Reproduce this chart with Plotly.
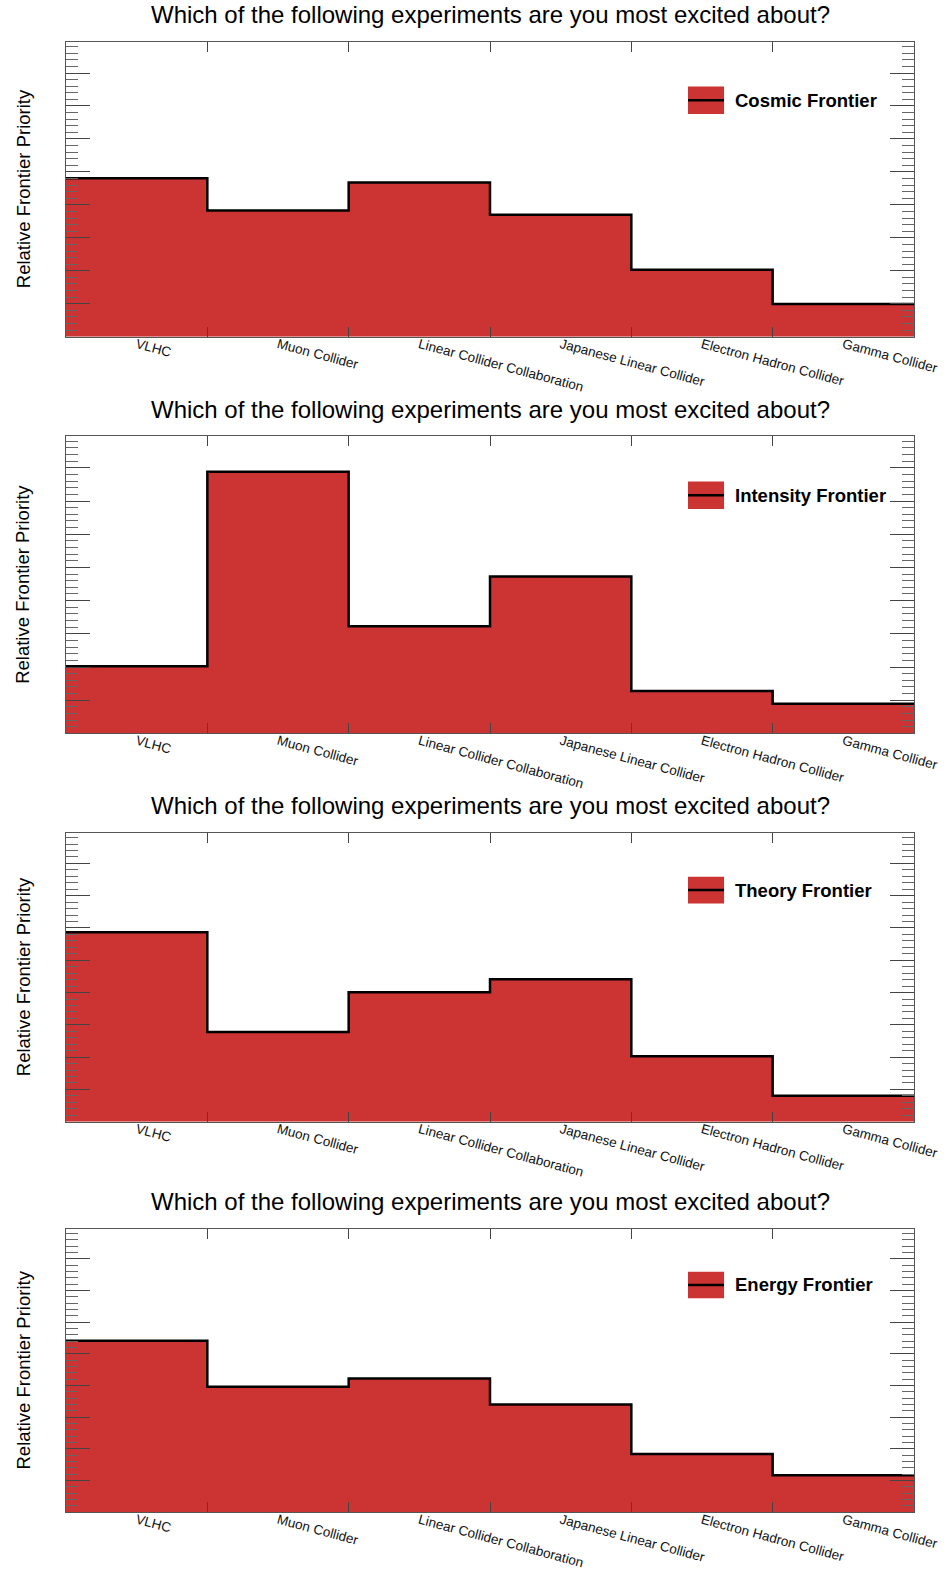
import numpy as np
import plotly.graph_objects as go

categories = ["VLHC", "Muon Collider", "Linear Collider Collaboration",
              "Japanese Linear Collider", "Electron Hadron Collider", "Gamma Collider"]
panel_names = ["Cosmic Frontier", "Intensity Frontier", "Theory Frontier", "Energy Frontier"]
cosmic = [4.81, 3.83, 4.68, 3.70, 2.03, 0.99]
intensity = [2.02, 7.88, 3.23, 4.73, 1.28, 0.89]
theory = [5.87, 2.78, 4.01, 4.41, 2.03, 0.80]
energy = [5.41, 3.96, 4.22, 3.40, 1.84, 1.17]
series = [cosmic, intensity, theory, energy]
title_text = "Which of the following experiments are you most excited about?"
ytitle_text = "Relative Frontier Priority"

W, H = 948, 1574
# panel pixel bounds (top, bottom)
panels_px = [(41.7, 336.7), (436.3, 733.4), (832.7, 1121.7), (1228.7, 1512.3)]
x_left, x_right = 66, 914
FONT = "Liberation Sans, Arial, Helvetica, sans-serif"
RED = "#cc3333"
AXC = "#555555"

fig = go.Figure()
edges = np.arange(len(categories) + 1)
centers = edges[:-1] + 0.5
layout = dict(width=W, height=H, margin=dict(l=0, r=0, t=0, b=0, autoexpand=False),
              paper_bgcolor="white", plot_bgcolor="white", showlegend=False)
shapes, annotations = [], []

for i, (vals, name) in enumerate(zip(series, panel_names)):
    k = "" if i == 0 else str(i + 1)
    top, bot = panels_px[i]
    ydom = [1 - bot / H, 1 - top / H]
    yv = list(vals) + [vals[-1]]
    fig.add_trace(go.Scatter(x=edges, y=yv, mode="lines", line=dict(shape="hv", color="black", width=2.5),
                             fill="tozeroy", fillcolor=RED, xaxis="x" + k, yaxis="y" + k, name=name,
                             hoverinfo="skip"))
    layout["xaxis" + k] = dict(domain=[x_left / W, x_right / W], range=[0, len(categories)], anchor="y" + k,
                               tickmode="array", tickvals=centers, ticktext=categories, tickangle=15,
                               ticks="inside", ticklen=0, tickcolor="rgba(0,0,0,0)",
                               ticklabelstandoff=-6, automargin=False,
                               tickfont=dict(family=FONT, size=13.5, color="#111"),
                               showline=True, linecolor=AXC, linewidth=1, mirror="allticks",
                               showgrid=False, zeroline=False, fixedrange=True,
                               minor=dict(tickmode="array", tickvals=edges[1:-1], ticks="inside", ticklen=10,
                                          tickcolor="#444", tickwidth=1, showgrid=False))
    layout["yaxis" + k] = dict(domain=ydom, range=[0, 8.95], anchor="x" + k, automargin=False,
                               tick0=0, dtick=1, ticks="inside", ticklen=24, tickcolor="#444", tickwidth=1,
                               showticklabels=False, showline=True, linecolor=AXC, linewidth=1, mirror="allticks",
                               showgrid=False, zeroline=False, fixedrange=True,
                               minor=dict(tick0=0, dtick=0.2, ticks="inside", ticklen=12, tickcolor="#666",
                                          tickwidth=1, showgrid=False))
    # title
    annotations.append(dict(text=title_text, xref="paper", yref="paper",
                            x=((x_left + x_right) / 2) / W, y=1 - (top - 27) / H,
                            xanchor="center", yanchor="middle", showarrow=False,
                            font=dict(family=FONT, size=24, color="black")))
    # y title
    annotations.append(dict(text=ytitle_text, xref="paper", yref="paper", x=23 / W,
                            y=1 - ((top + bot) / 2) / H, textangle=-90, xanchor="center", yanchor="middle",
                            showarrow=False, font=dict(family=FONT, size=18.5, color="black")))
    # legend
    xr, yr = "x" + k + " domain", "y" + k + " domain"
    shapes.append(dict(type="rect", xref=xr, yref=yr, x0=0.7335, x1=0.776, y0=0.755, y1=0.848,
                       fillcolor=RED, line=dict(width=0), layer="above"))
    shapes.append(dict(type="line", xref=xr, yref=yr, x0=0.7335, x1=0.776, y0=0.8015, y1=0.8015,
                       line=dict(color="black", width=2.5), layer="above"))
    annotations.append(dict(text="<b>" + name + "</b>", xref=xr, yref=yr, x=0.786, y=0.8015,
                            xanchor="left", yanchor="middle", showarrow=False,
                            font=dict(family=FONT, size=18.5, color="black")))

layout["shapes"] = shapes
layout["annotations"] = annotations
fig.update_layout(**layout)
fig.write_html("out.html", config={"displayModeBar": False},
               post_script="document.body.style.margin='0';document.body.style.overflow='hidden';")
